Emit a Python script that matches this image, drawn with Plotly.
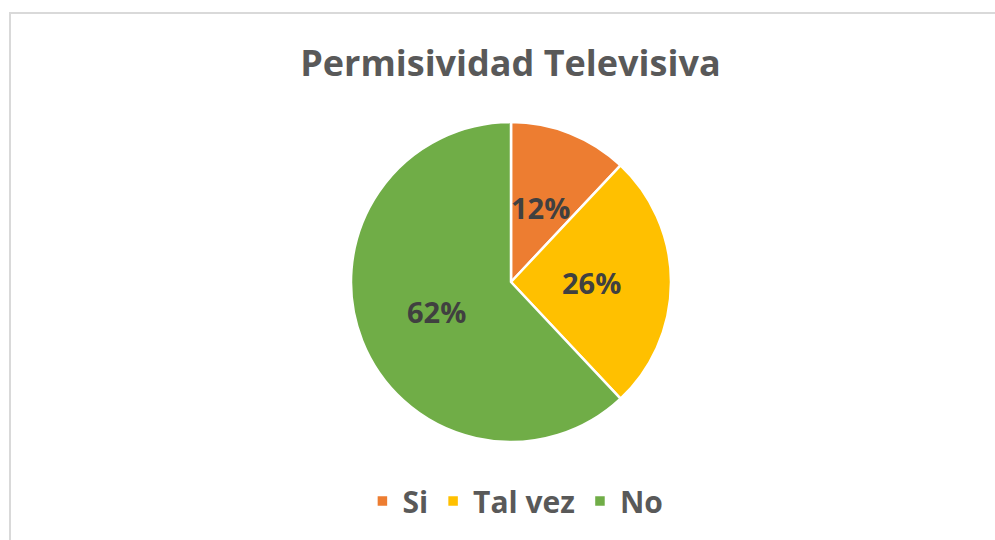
import math
import plotly.graph_objects as go

categories = ["Si", "Tal vez", "No"]
values = [12, 26, 62]
colors = ["#ED7D31", "#FFC000", "#70AD47"]
title_text = "Permisividad Televisiva"

W, H = 995, 540
cx, cy, r = 511, 282, 160  # pixel center / radius
FONT = "Open Sans"

fig = go.Figure()
fig.add_trace(go.Pie(
    labels=categories,
    values=values,
    marker=dict(colors=colors, line=dict(color="white", width=2.5)),
    sort=False,
    direction="clockwise",
    rotation=0,
    textinfo="none",
    hoverinfo="label+percent",
    domain=dict(x=[(cx - r) / W, (cx + r) / W], y=[1 - (cy + r) / H, 1 - (cy - r) / H]),
))

# percentage labels placed at half radius along each slice's mid-angle
total = sum(values)
cum = 0
annotations = []
for v in values:
    mid = (cum + v / 2) / total * 2 * math.pi
    cum += v
    px = cx + 0.5 * r * math.sin(mid)
    py = cy - 0.5 * r * math.cos(mid)
    annotations.append(dict(
        x=px / W, y=1 - py / H, xref="paper", yref="paper",
        text=f"{round(v / total * 100)}%", showarrow=False,
        font=dict(family=FONT, size=29, color="#404040", weight="bold"),
        xanchor="center", yanchor="middle",
    ))

fig.update_layout(
    width=W, height=H,
    margin=dict(l=0, r=0, t=0, b=0),
    paper_bgcolor="white",
    title=dict(text=f"<b>{title_text}</b>", x=0.513, xanchor="center", y=1 - 63 / H, yanchor="middle",
               font=dict(family=FONT, size=36, color="#595959")),
    legend=dict(orientation="h", x=0.518, xanchor="center", y=1 - 501 / H, yanchor="middle",
                font=dict(family=FONT, size=30, color="#595959", weight="bold"),
                itemwidth=30),
    annotations=annotations,
    shapes=[dict(type="rect", xref="paper", yref="paper", x0=10 / W, x1=1.02, y0=-0.02, y1=1 - 13 / H,
                 line=dict(color="#D9D9D9", width=2), fillcolor="rgba(0,0,0,0)", layer="below")],
)

fig.write_html("out.html", config={"displayModeBar": False},
               post_script="document.body.style.margin='0';")
